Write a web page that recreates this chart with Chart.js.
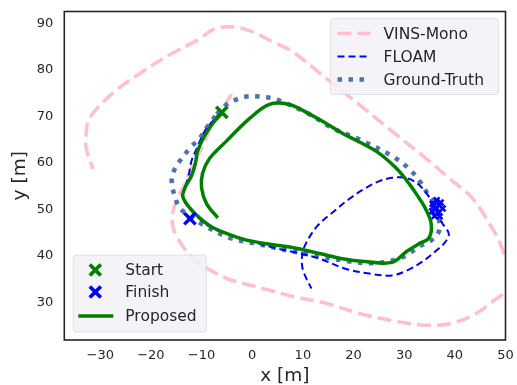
<!DOCTYPE html>
<html>
<head>
<meta charset="utf-8">
<script src="https://cdn.jsdelivr.net/npm/chart.js@4"></script>
<style>
html,body{margin:0;padding:0;background:#fff;}
#c{display:block;}
</style>
</head>
<body>
<canvas id="c" width="517" height="385"></canvas>
<script>
// ---- data (metres) ----
const xTicks = [-30, -20, -10, 0, 10, 20, 30, 40, 50];
const yTicks = [30, 40, 50, 60, 70, 80, 90];

const vinsX = [-4.1, -6.0, -7.8, -9.8, -11.8, -13.3, -14.7, -15.7, -15.7, -14.7, -12.7, -10.4, -7.4, -3.9, 1.4, 7.9, 14.6, 21.1, 27.6, 34.3, 39.4, 44.2, 47.7, 50.1, 51.6, 51.0, 50.1, 48.7, 47.3, 43.4, 38.8, 34.3, 27.6, 21.1, 14.6, 7.9, 4.0, 0.1, -2.5, -5.1, -7.8, -10.4, -16.3, -21.6, -26.7, -30.6, -32.4, -32.8, -32.8, -32.0, -31.4];
const vinsY = [74.8, 71.5, 68.5, 63.6, 59.3, 55.5, 52.5, 49.3, 46.5, 43.7, 40.7, 38.4, 36.4, 34.7, 33.2, 31.3, 29.8, 27.6, 26.1, 25.1, 25.5, 27.6, 30.4, 32.4, 35.4, 37.9, 39.4, 43.3, 46.1, 52.5, 56.8, 61.0, 66.8, 72.6, 78.2, 84.0, 86.1, 88.2, 89.1, 89.3, 88.7, 86.7, 83.3, 79.7, 75.8, 71.8, 69.0, 66.2, 63.2, 60.4, 58.7];

const floamX = [-6.0, -7.8, -9.4, -11.0, -12.0, -12.5, -13.3, -13.7, -12.7, -10.8, -8.4, -5.1, -0.5, 3.4, 8.7, 13.3, 18.2, 23.1, 27.6, 31.0, 33.9, 36.3, 38.2, 38.8, 37.5, 36.3, 34.9, 32.9, 30.4, 27.6, 25.1, 22.1, 19.2, 15.8, 12.9, 10.9, 9.9, 9.9, 10.7, 11.7];
const floamY = [70.9, 69.0, 66.8, 63.0, 60.4, 57.6, 54.6, 52.9, 50.6, 48.4, 46.3, 44.8, 43.3, 42.0, 40.7, 39.4, 37.3, 36.2, 35.8, 37.1, 39.0, 41.1, 43.1, 44.8, 47.1, 49.7, 52.7, 55.3, 56.8, 56.8, 56.1, 54.4, 52.3, 49.3, 46.5, 43.3, 40.5, 37.5, 35.1, 33.0];

// jittery cluster of FLOAM poses near (36.5, 50)
const floamJitterX = [36.3, 35.6, 37.2, 36.8, 35.5, 37.6, 36.4, 36.0, 37.0, 35.9, 36.9];
const floamJitterY = [50.3, 51.2, 51.5, 49.2, 49.6, 50.2, 52.0, 48.6, 48.5, 50.8, 50.9];

const gtX = [-7.0, -5.5, -3.5, -1.1, 1.4, 4.0, 6.8, 11.3, 15.8, 21.1, 27.6, 31.0, 33.3, 34.9, 36.3, 36.9, 36.9, 35.3, 32.9, 30.4, 27.6, 23.7, 19.2, 13.2, 7.3, 0.9, -4.5, -9.4, -12.3, -14.3, -15.3, -15.9, -15.3, -13.9, -12.3, -10.4, -8.8, -7.0];
const gtY = [70.5, 72.2, 73.5, 74.3, 74.3, 73.9, 72.8, 70.5, 67.5, 65.1, 61.5, 58.7, 55.7, 52.9, 50.8, 47.6, 45.4, 43.3, 42.0, 40.1, 39.0, 38.4, 38.8, 39.9, 41.1, 42.6, 43.9, 46.5, 48.6, 50.3, 52.9, 56.1, 58.7, 61.0, 63.2, 65.3, 67.9, 70.5];

const propX = [-6.0, -7.8, -9.4, -10.8, -11.2, -12.0, -13.3, -13.7, -12.3, -10.4, -7.8, -4.5, -1.5, 2.8, 7.9, 13.3, 17.8, 22.1, 27.6, 30.4, 32.9, 34.9, 35.3, 33.9, 32.9, 31.0, 28.4, 24.5, 17.8, 14.6, 10.7, 7.3, 3.4, -0.5, -5.1, -8.4, -9.8, -10.0, -9.0, -6.8];
const propY = [70.7, 68.5, 65.8, 62.5, 60.0, 57.2, 54.6, 52.7, 50.3, 48.2, 46.1, 44.6, 43.5, 42.6, 41.8, 40.5, 39.4, 38.8, 38.6, 40.9, 42.6, 43.9, 47.1, 50.8, 52.5, 55.5, 58.9, 62.5, 66.4, 68.5, 70.9, 72.6, 72.6, 69.6, 64.7, 61.0, 57.8, 54.6, 51.2, 48.2];

const startPt = [-6.0, 70.9];
const finishPt = [-12.3, 48.0];

const labels = { vins: 'VINS-Mono', floam: 'FLOAM', gt: 'Ground-Truth', start: 'Start', finish: 'Finish', prop: 'Proposed' };

const zip = (xs, ys) => xs.map((x, i) => ({ x: x, y: ys[i] }));
const FONT = 'DejaVu Sans';
const TXT = '#262626';

const dsVins = { label: labels.vins, data: zip(vinsX, vinsY), showLine: true, borderColor: '#ffc0cb', borderWidth: 3.5, borderDash: [14, 6], pointRadius: 0, tension: 0.35, order: 5 };
const dsGt = { label: labels.gt, data: zip(gtX, gtY), showLine: true, borderColor: '#4c72b0', borderWidth: 4.5, borderDash: [4.5, 6.5], pointRadius: 0, tension: 0.35, order: 4 };
const dsFloam = { label: labels.floam, data: zip(floamX, floamY), showLine: true, borderColor: '#0000ff', borderWidth: 2, borderDash: [7, 4], pointRadius: 0, tension: 0.35, order: 3 };
const dsJitter = { label: 'FLOAM jitter', data: zip(floamJitterX, floamJitterY), showLine: false, borderColor: '#0000ff', backgroundColor: '#0000ff', pointStyle: 'crossRot', pointRadius: 4, borderWidth: 2.5, order: 3 };
const dsProp = { label: labels.prop, data: zip(propX, propY), showLine: true, borderColor: '#008000', borderWidth: 3.5, pointRadius: 0, tension: 0.35, order: 2 };
const dsStart = { label: labels.start, data: [{ x: startPt[0], y: startPt[1] }], showLine: false, borderColor: '#008000', pointStyle: 'crossRot', pointRadius: 8, borderWidth: 3.5, order: 1 };
const dsFinish = { label: labels.finish, data: [{ x: finishPt[0], y: finishPt[1] }], showLine: false, borderColor: '#0000ff', pointStyle: 'crossRot', pointRadius: 8, borderWidth: 3.5, order: 1 };

function drawBox(ctx, x, y, w, h, r) {
  ctx.beginPath();
  ctx.moveTo(x + r, y);
  ctx.lineTo(x + w - r, y);
  ctx.quadraticCurveTo(x + w, y, x + w, y + r);
  ctx.lineTo(x + w, y + h - r);
  ctx.quadraticCurveTo(x + w, y + h, x + w - r, y + h);
  ctx.lineTo(x + r, y + h);
  ctx.quadraticCurveTo(x, y + h, x, y + h - r);
  ctx.lineTo(x, y + r);
  ctx.quadraticCurveTo(x, y, x + r, y);
  ctx.closePath();
  ctx.fillStyle = 'rgba(242,242,247,0.85)';
  ctx.fill();
  ctx.strokeStyle = 'rgba(210,210,215,0.6)';
  ctx.lineWidth = 1;
  ctx.stroke();
}
function drawSample(ctx, ds, x0, x1, y) {
  ctx.save();
  ctx.strokeStyle = ds.borderColor;
  ctx.lineWidth = ds.borderWidth;
  ctx.setLineDash(ds.borderDash || []);
  ctx.beginPath();
  ctx.moveTo(x0, y);
  ctx.lineTo(x1, y);
  ctx.stroke();
  ctx.restore();
}
function drawX(ctx, color, cx, cy, r, w) {
  ctx.save();
  ctx.strokeStyle = color;
  ctx.lineWidth = w;
  ctx.beginPath();
  ctx.moveTo(cx - r, cy - r); ctx.lineTo(cx + r, cy + r);
  ctx.moveTo(cx - r, cy + r); ctx.lineTo(cx + r, cy - r);
  ctx.stroke();
  ctx.restore();
}

const decorPlugin = {
  id: 'decor',
  afterDatasetsDraw(chart) {
    const { ctx, chartArea: a } = chart;
    ctx.save();
    ctx.font = '15.5px "' + FONT + '"';
    ctx.textBaseline = 'middle';
    ctx.fillStyle = TXT;
    // upper-right legend
    const bx = a.right - 175, by = a.top + 7;
    drawBox(ctx, bx, by, 168, 76, 3);
    const ents = [dsVins, dsFloam, dsGt];
    const ys = [by + 15, by + 38, by + 61];
    ents.forEach((ds, i) => {
      drawSample(ctx, ds, bx + 7, bx + 40, ys[i]);
      ctx.fillStyle = TXT;
      ctx.fillText(ds.label, bx + 53, ys[i] + 1);
    });
    // lower-left legend
    const lx = a.left + 9, ly = a.bottom - 85;
    drawBox(ctx, lx, ly, 133, 77, 3);
    const ly1 = ly + 15, ly2 = ly + 37, ly3 = ly + 61;
    drawX(ctx, dsStart.borderColor, lx + 22, ly1, 5.5, 3.8);
    drawX(ctx, dsFinish.borderColor, lx + 22, ly2, 5.5, 3.8);
    drawSample(ctx, dsProp, lx + 5, lx + 40, ly3);
    ctx.fillStyle = TXT;
    ctx.fillText(dsStart.label, lx + 52, ly1 + 1);
    ctx.fillText(dsFinish.label, lx + 52, ly2 + 1);
    ctx.fillText(dsProp.label, lx + 52, ly3 + 1);
    ctx.restore();
  },
  afterDraw(chart) {
    const { ctx, chartArea: a } = chart;
    ctx.save();
    ctx.strokeStyle = '#262626';
    ctx.lineWidth = 1.6;
    ctx.strokeRect(a.left, a.top, a.right - a.left, a.bottom - a.top);
    ctx.restore();
  }
};

const fmt = v => (v < 0 ? '\u2212' + Math.abs(v) : String(v));

new Chart(document.getElementById('c'), {
  type: 'scatter',
  data: { datasets: [dsStart, dsFinish, dsProp, dsFloam, dsJitter, dsGt, dsVins] },
  options: {
    responsive: false,
    animation: false,
    devicePixelRatio: 1,
    layout: { padding: { left: 0, right: 10, top: 10, bottom: 0 } },
    plugins: { legend: { display: false }, tooltip: { enabled: false } },
    scales: {
      x: {
        type: 'linear', min: -37.1, max: 50,
        afterBuildTicks: s => { s.ticks = xTicks.map(v => ({ value: v })); },
        afterFit: s => { s.height = 45; s.paddingLeft = 0; s.paddingRight = 0; },
        grid: { display: false, drawTicks: false },
        border: { display: false },
        ticks: { callback: fmt, color: TXT, font: { family: FONT, size: 13 }, padding: 8, maxRotation: 0, autoSkip: false },
        title: { display: true, text: 'x [m]', color: TXT, font: { family: FONT, size: 18.5 }, padding: { top: 0, bottom: -2 } }
      },
      y: {
        type: 'linear', min: 21.9, max: 92.6,
        afterBuildTicks: s => { s.ticks = yTicks.map(v => ({ value: v })); },
        afterFit: s => { s.width = 64.3; s.paddingTop = 0; s.paddingBottom = 0; },
        grid: { display: false, drawTicks: false },
        border: { display: false },
        ticks: { callback: fmt, color: TXT, font: { family: FONT, size: 13 }, padding: 11, autoSkip: false },
        title: { display: true, text: 'y [m]', color: TXT, font: { family: FONT, size: 18.5 }, padding: { top: 9, bottom: 0 } }
      }
    }
  },
  plugins: [decorPlugin]
});
</script>
</body>
</html>
